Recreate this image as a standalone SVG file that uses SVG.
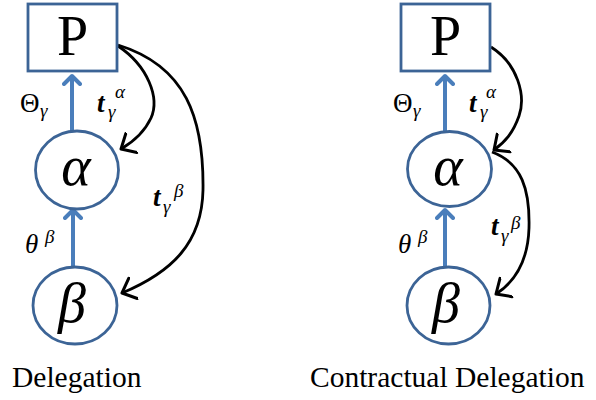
<svg xmlns="http://www.w3.org/2000/svg" width="596" height="400" viewBox="0 0 596 400">
<style>
.node{fill:#fff;stroke:#3c6496;stroke-width:2.8}
text{font-family:'Liberation Serif','Times New Roman','DejaVu Serif',serif;fill:#000}
.big{font-size:56px}
.lbl{font-size:27px}
.sub{font-size:19px;font-style:italic}
.it{font-style:italic}
.bi{font-style:italic;font-weight:bold}
.cap{font-size:29.5px}
.blue{fill:none;stroke:#4a7ebb;stroke-width:4;marker-end:url(#ba)}
.blk{fill:none;stroke:#000;stroke-width:2.8;marker-end:url(#ka)}
</style>
<defs>
<marker id="ba" markerUnits="userSpaceOnUse" markerWidth="20" markerHeight="20" refX="10" refY="10" orient="auto" viewBox="0 0 20 20">
<path d="M2,2 L10,10 L2,18" fill="none" stroke="#4a7ebb" stroke-width="4" stroke-linecap="round" stroke-linejoin="round"/>
</marker>
<marker id="ka" markerUnits="userSpaceOnUse" markerWidth="26" markerHeight="26" refX="13" refY="13" orient="auto" viewBox="0 0 26 26">
<path d="M1,2 L13,13 L1,24" fill="none" stroke="#000" stroke-width="3" stroke-linecap="round" stroke-linejoin="round"/>
</marker>
</defs>

<g id="connectors">
<path class="blue" d="M72,131 L72,76"/>
<path class="blue" d="M73,267 L73,210"/>
<path class="blk" d="M118,46 C148,66 160,98 151,118 C144,133 133,142 121,149"/>
<path class="blk" d="M118,45 C186,66 204,118 203,190 C202,243 172,272 122,293"/>
<path class="blue" d="M445,131 L445,76"/>
<path class="blue" d="M445,267 L445,210"/>
<path class="blk" d="M491,47 C518,64 526,96 519,116 C513,133 505,142 494,150"/>
<path class="blk" d="M492,152 C522,163 530,190 529,228 C528,260 516,281 496,294"/>
</g>

<g id="P-left"><rect class="node" x="28" y="4" width="89" height="67"/><text class="big" x="72.5" y="55" text-anchor="middle">P</text></g>
<g id="alpha-left"><ellipse class="node" cx="77" cy="170" rx="41.5" ry="39"/><text class="big it" x="76" y="185" text-anchor="middle">α</text></g>
<g id="beta-left"><ellipse class="node" cx="75" cy="305.5" rx="42" ry="38.5"/><text class="big it" x="72" y="322" text-anchor="middle">β</text></g>

<g id="P-right"><rect class="node" x="401" y="4" width="89" height="67"/><text class="big" x="445.5" y="55" text-anchor="middle">P</text></g>
<g id="alpha-right"><ellipse class="node" cx="449.5" cy="169" rx="42" ry="37.5"/><text class="big it" x="448" y="185" text-anchor="middle">α</text></g>
<g id="beta-right"><ellipse class="node" cx="448.5" cy="305.5" rx="41.5" ry="38.5"/><text class="big it" x="446" y="322" text-anchor="middle">β</text></g>

<g id="labels">
<text class="lbl" x="20" y="112">Θ</text><text class="sub" x="40" y="117">γ</text>
<text class="lbl bi" x="97" y="112">t</text><text class="sub" x="108" y="118">γ</text><text class="sub" x="115" y="98">α</text>
<text class="lbl bi" x="153" y="206">t</text><text class="sub" x="163" y="213">γ</text><text class="sub" x="174" y="197">β</text>
<text class="lbl it" x="25" y="253">θ</text><text class="sub" x="45" y="243">β</text>

<text class="lbl" x="393" y="112">Θ</text><text class="sub" x="413" y="117">γ</text>
<text class="lbl bi" x="469" y="112">t</text><text class="sub" x="480" y="118">γ</text><text class="sub" x="486" y="98">α</text>
<text class="lbl bi" x="491" y="235">t</text><text class="sub" x="501" y="242">γ</text><text class="sub" x="511" y="229">β</text>
<text class="lbl it" x="398" y="253">θ</text><text class="sub" x="418" y="243">β</text>

<text class="cap" x="12" y="387">Delegation</text>
<text class="cap" x="310" y="387">Contractual Delegation</text>
</g>
</svg>
